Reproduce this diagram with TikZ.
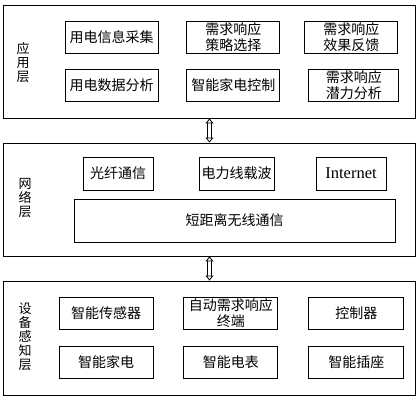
\documentclass[tikz,border=0pt]{standalone}
\usepackage{fontspec}
\newfontfamily\cjk{Noto Sans CJK SC}
\newfontfamily\latin{Liberation Serif}
\usetikzlibrary{arrows.meta,positioning}

\begin{document}
\begin{tikzpicture}[x=1pt,y=-1pt,font=\cjk\fontsize{14}{16}\selectfont,
  layer/.style={draw,line width=0.9pt,minimum width=412pt,inner sep=0pt},
  box/.style={draw,line width=0.9pt,minimum width=93pt,minimum height=32pt,align=center,inner sep=1pt},
  lbl/.style={align=center,font=\cjk\fontsize{13}{14}\selectfont},
  dbl/.style={line width=0.8pt,double distance=2.6pt,{Triangle[open,width=8pt,length=5pt]}-{Triangle[open,width=8pt,length=5pt]}}]
\useasboundingbox (0,0) rectangle (419,400);
% layers
\node[layer,minimum height=113pt] (app) at (209.5,61.5) {};
\node[layer,minimum height=113pt] (net) at (209.5,199.5) {};
\node[layer,minimum height=114pt] (dev) at (209.5,338) {};
\node[lbl] at (23,63) {应\\用\\层};
\node[lbl] at (25,198) {网\\络\\层};
\node[lbl] at (25,337) {设\\备\\感\\知\\层};

% application layer
\node[box] (collect) at (111.5,37) {用电信息采集};
\node[box,right=28pt of collect] (strategy) {需求响应\\策略选择};
\node[box,right=24pt of strategy] (feedback) {需求响应\\效果反馈};
\node[box] (analysis) at (111.5,85.5) {用电数据分析};
\node[box,right=28pt of analysis] (homectl) {智能家电控制};
\node[box,minimum width=90pt,right=28pt of homectl] (potential) {需求响应\\潜力分析};

% network layer
\node[box,minimum width=70pt,minimum height=33pt] (fiber) at (118,173.5) {光纤通信};
\node[box,minimum width=75pt,minimum height=33pt] (plc) at (236.5,173.5) {电力线载波};
\node[box,minimum width=70pt,minimum height=33pt] (inet) at (351,173.5) {\latin\fontsize{16.5}{18}\selectfont Internet};
\node[box,minimum width=321pt,minimum height=43pt] (wireless) at (234.5,220.5) {短距离无线通信};

% device layer
\node[box,minimum width=94pt] (sensor) at (106,313) {智能传感器};
\node[box,minimum width=94pt,right=30pt of sensor] (terminal) {自动需求响应\\终端};
\node[box,minimum width=95pt,right=30pt of terminal] (ctrl) {控制器};
\node[box,minimum width=94pt] (appliance) at (106,362) {智能家电};
\node[box,minimum width=94pt,right=30pt of appliance] (meter) {智能电表};
\node[box,minimum width=95pt,right=30pt of meter] (socket) {智能插座};

\draw[dbl] (app.south) -- (net.north);
\draw[dbl] (net.south) -- (dev.north);
\end{tikzpicture}
\end{document}
